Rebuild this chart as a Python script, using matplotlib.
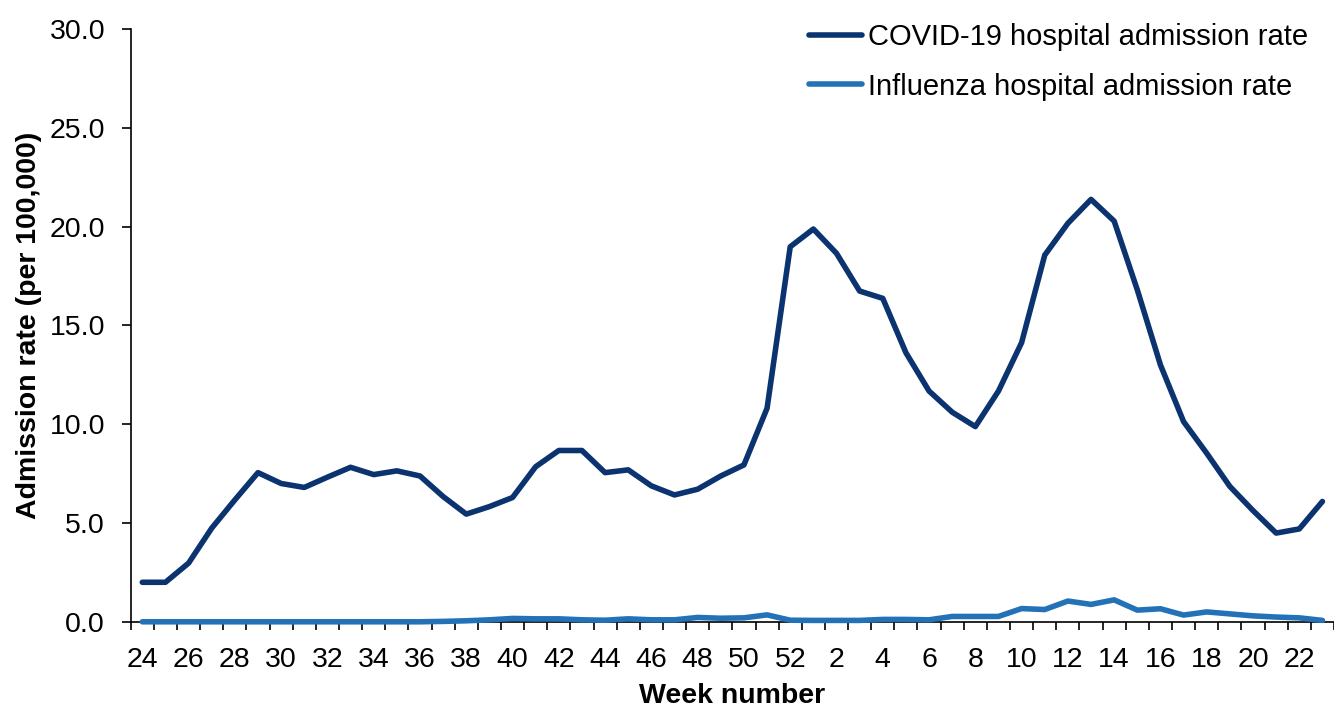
import matplotlib
matplotlib.use("Agg")
import matplotlib.pyplot as plt
import numpy as np

plt.rcParams['font.family'] = ['Liberation Sans', 'DejaVu Sans']

weeks = list(range(24, 53)) + list(range(1, 24))
covid = [2.0, 2.0, 2.97, 4.74, 6.17, 7.55, 7.0, 6.8, 7.32, 7.82,
         7.45, 7.64, 7.38, 6.34, 5.45, 5.83, 6.29, 7.85, 8.67, 8.67,
         7.55, 7.69, 6.88, 6.42, 6.71, 7.38, 7.94, 10.81, 18.98, 19.88,
         18.65, 16.74, 16.37, 13.62, 11.68, 10.61, 9.88, 11.68, 14.13, 18.56,
         20.17, 21.38, 20.28, 16.8, 13.0, 10.13, 8.53, 6.85, 5.63, 4.49,
         4.70, 6.09]
flu = [0.0, 0.0, 0.0, 0.0, 0.0, 0.0, 0.0, 0.0, 0.0, 0.0,
       0.0, 0.0, 0.0, 0.02, 0.05, 0.1, 0.17, 0.15, 0.15, 0.1,
       0.08, 0.15, 0.1, 0.1, 0.22, 0.18, 0.2, 0.35, 0.08, 0.07,
       0.07, 0.07, 0.12, 0.12, 0.1, 0.27, 0.27, 0.27, 0.67, 0.62,
       1.05, 0.88, 1.11, 0.59, 0.66, 0.34, 0.5, 0.4, 0.3, 0.24,
       0.2, 0.07]

x = np.arange(len(weeks))

fig = plt.figure(figsize=(13.34, 7.09), dpi=100)
ax = fig.add_axes([0.098, 0.123, 0.902, 0.836])

ax.plot(x, covid, color='#0a3370', lw=4, solid_capstyle='round',
        label='COVID-19 hospital admission rate', clip_on=False, zorder=3)
ax.plot(x, flu, color='#2372b8', lw=4, solid_capstyle='round',
        label='Influenza hospital admission rate', clip_on=False, zorder=3)

ax.set_ylim(0, 30)
ax.set_yticks(np.arange(0, 30.1, 5))
ax.set_yticklabels([f'{v:.1f}' for v in np.arange(0, 30.1, 5)])
ax.set_xlim(-0.5, 51.15)

ax.set_xticks(x[::2])
ax.set_xticklabels([str(w) for w in weeks[::2]])
ax.set_xticks(np.arange(-0.5, 51.6, 1), minor=True)
ax.tick_params(axis='x', which='major', length=0, pad=18, labelsize=20.5)
ax.tick_params(axis='x', which='minor', length=6, width=1.2, direction='out')
ax.tick_params(axis='y', length=6.5, width=1.2, pad=12, labelsize=20.5)

for s in ['top', 'right']:
    ax.spines[s].set_visible(False)
for s in ['left', 'bottom']:
    ax.spines[s].set_linewidth(1.2)
    ax.spines[s].set_color('black')

ax.set_ylabel('Admission rate (per 100,000)', fontsize=20.5, fontweight='bold', labelpad=5)
ax.set_xlabel('Week number', fontsize=20.5, fontweight='bold', labelpad=7)

ax.legend(loc='upper right', bbox_to_anchor=(1.0, 1.055), frameon=False,
          fontsize=21, handlelength=1.8, handletextpad=0.2, labelspacing=0.75)

fig.savefig('out.png', dpi=100)
